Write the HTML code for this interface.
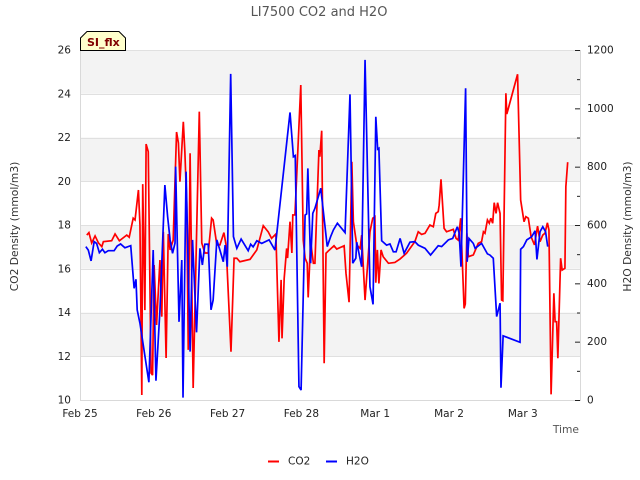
<!DOCTYPE html>
<html>
<head>
<meta charset="utf-8">
<title>LI7500 CO2 and H2O</title>
<style>
html,body{margin:0;padding:0;background:#fff;}
svg{display:block;}
text{font-family:"DejaVu Sans","Liberation Sans",sans-serif;}
</style>
</head>
<body>
<svg id="chart" xmlns="http://www.w3.org/2000/svg" width="640" height="480" viewBox="0 0 640 480">
  <rect x="0" y="0" width="640" height="480" fill="#ffffff"/>
  <g id="bands"></g>
  <g id="grid"></g>
  <g id="series"></g>
  <g id="axes"></g>
  <text x="319" y="16" font-size="13" fill="#555555" text-anchor="middle">LI7500 CO2 and H2O</text>
  <text transform="translate(18,226.5) rotate(-90)" font-size="10.7" fill="#333333" text-anchor="middle">CO2 Density (mmol/m3)</text>
  <text transform="translate(631,226.5) rotate(-90)" font-size="10.7" fill="#333333" text-anchor="middle">H2O Density (mmol/m3)</text>
  <text x="579" y="433" font-size="10.7" fill="#555555" text-anchor="end">Time</text>
  <g>
    <polygon points="80.5,50.5 80.5,38 87,31.5 119,31.5 125.5,38 125.5,50.5" fill="#ffffcc" stroke="#000000" stroke-width="1"/>
    <text x="87" y="46" font-size="11" font-weight="bold" fill="#800000">SI_flx</text>
  </g>
  <g>
    <g>
      <line x1="268" x2="279" y1="461.5" y2="461.5" stroke="#ff0000" stroke-width="2"/>
      <text x="288" y="464.5" font-size="10.5" fill="#222222">CO2</text>
    </g>
    <g>
      <line x1="326" x2="337" y1="461.5" y2="461.5" stroke="#0000ff" stroke-width="2"/>
      <text x="346" y="464.5" font-size="10.5" fill="#222222">H2O</text>
    </g>
  </g>
</svg>
<script>
// Time values are hours since Feb 25 00:00.
const co2Hours = [2.2,2.9,3.8,4.9,6.0,7.1,7.6,10.3,11.4,12.8,15.2,16.0,17.3,17.9,19.0,19.5,20.1,20.4,21.1,21.5,22.2,23.1,23.6,24.1,24.9,26.0,26.6,27.1,28.0,28.7,29.3,30.3,31.4,32.0,32.5,33.6,34.1,34.7,35.2,35.8,36.8,38.8,39.6,40.6,41.7,42.8,43.3,44.5,45.5,46.8,47.5,49.1,50.1,51.0,52.0,55.3,57.5,59.6,61.2,62.3,63.7,64.7,65.4,65.7,66.4,67.2,67.5,68.3,68.9,69.2,69.9,71.8,72.6,73.2,73.9,74.2,75.0,75.9,76.4,77.7,78.0,78.6,79.4,80.0,81.1,82.6,83.5,85.9,86.5,87.5,88.4,88.9,90.0,91.1,91.6,92.7,94.3,95.2,95.9,96.2,96.7,97.2,97.9,98.6,100.3,102.4,104.1,106.2,108.9,110.0,111.1,112.2,113.8,114.9,115.7,116.5,116.8,117.4,118.4,119.2,121.4,122.3,123.0,123.8,124.9,125.3,125.8,126.3,127.9,129.5,130.6,131.2,131.7,132.5,133.1,133.6,134.2,134.7,135.3,135.8,136.6,137.1,137.5,138.5,138.8,142.3,143.3,144.4,145.0,145.8,146.7,147.8,148.8,149.6,150.5,151.2,152.0,152.5,153.2,154.1,154.5,155.0,155.4,156.3,156.8,157.7,158.0,158.6];
const co2Values = [17.54,17.65,17.18,17.50,17.18,17.01,17.24,17.28,17.59,17.28,17.54,17.44,18.31,18.23,19.60,18.0,10.23,19.87,14.11,21.70,21.35,11.23,11.14,16.17,13.43,16.40,13.81,17.69,11.92,17.59,16.86,17.31,22.25,21.75,19.98,22.72,21.35,19.06,12.29,21.28,10.55,23.18,17.18,16.72,16.72,18.31,18.23,17.09,17.09,17.65,17.09,12.21,16.48,16.48,16.32,16.43,16.86,17.97,17.69,17.39,17.59,12.66,15.49,12.82,15.56,16.93,16.49,18.15,16.72,18.46,18.46,24.40,17.31,16.48,16.25,14.69,17.24,16.25,16.25,21.43,21.12,22.31,11.68,16.71,16.86,17.05,16.90,17.05,15.79,14.47,20.89,18.15,17.09,16.93,17.54,14.57,17.69,18.31,18.38,15.36,16.86,15.33,16.86,16.55,16.25,16.29,16.45,16.71,17.24,17.69,17.57,17.62,18.0,17.92,18.53,18.61,18.91,20.09,17.85,17.69,17.80,17.39,17.31,18.31,14.19,14.39,17.62,16.55,16.63,17.16,17.24,17.69,17.62,18.23,18.08,18.31,18.08,19.02,18.53,19.02,18.53,14.57,14.54,24.02,23.07,24.89,19.14,18.15,18.38,18.31,17.46,17.09,17.95,17.24,17.54,17.62,18.10,17.77,10.26,14.88,13.58,13.58,11.91,16.48,15.94,16.02,19.75,20.87];
const h2oHours = [1.9,2.7,3.6,4.6,5.4,6.3,7.3,8.1,9.2,11.1,12.1,13.2,14.6,16.5,17.6,18.2,18.6,19.5,22.4,23.8,24.7,26.0,27.6,28.5,29.3,30.1,30.9,31.1,32.2,33.1,33.5,34.5,35.8,36.6,37.9,39.0,39.8,40.6,41.7,42.6,43.3,44.5,45.5,46.6,47.2,47.9,49.0,49.9,51.0,52.4,54.7,55.5,56.3,57.5,59.1,61.5,63.4,68.3,69.4,70.0,71.2,71.9,73.2,73.7,74.1,75.0,75.7,76.4,78.3,80.4,81.5,82.4,83.7,86.2,87.8,88.7,89.7,90.0,91.6,92.7,94.3,95.3,96.2,96.8,97.2,98.1,99.7,100.8,101.9,102.8,104.1,105.4,107.3,108.9,110.0,112.2,114.0,116.5,117.6,119.8,121.2,122.7,123.3,123.9,125.4,125.9,126.5,127.9,128.5,130.6,132.5,133.3,134.4,135.5,136.6,136.9,137.6,143.1,143.3,144.2,145.3,146.9,148.0,148.6,149.6,150.5,151.4,152.1];
const h2oValues = [526,514,477,543,537,505,517,505,512,512,528,535,522,529,383,414,309,263,61,514,66,309,737,628,549,503,538,800,268,480,8,783,166,549,232,520,463,534,534,309,343,549,514,474,531,457,1118,560,520,552,512,534,525,546,537,549,514,986,834,838,46,34,634,638,794,469,640,657,726,526,560,583,606,574,1048,469,486,541,457,1166,388,328,971,860,863,546,531,535,508,508,554,503,541,543,531,520,497,529,526,549,554,594,573,457,1069,474,554,537,520,537,501,497,486,286,332,42,220,198,517,526,549,560,580,482,577,594,577,526];
const leftTicks = [10,12,14,16,18,20,22,24,26];
const rightMajorTicks = [0,200,400,600,800,1000,1200];
const rightMinorTicks = [100,300,500,700,900,1100];
const dayLabels = ['Feb 25','Feb 26','Feb 27','Feb 28','Mar 1','Mar 2','Mar 3'];

const SVG_NS = 'http://www.w3.org/2000/svg';
const plot = {left: 80, right: 580, top: 50, bottom: 400};
const hourDomainMax = (plot.right - plot.left) / 3.075;
function xScale(h) { return plot.left + (h / hourDomainMax) * (plot.right - plot.left); }
function yLeft(v) { return plot.bottom - (v - 10) / 16 * (plot.bottom - plot.top); }
function yRight(v) { return plot.bottom - v / 1200 * (plot.bottom - plot.top); }
function make(tag, attrs, parent, txt) {
  const el = document.createElementNS(SVG_NS, tag);
  for (const k in attrs) el.setAttribute(k, attrs[k]);
  if (txt !== undefined) el.textContent = txt;
  parent.appendChild(el);
  return el;
}
const bands = document.getElementById('bands');
const grid = document.getElementById('grid');
const axes = document.getElementById('axes');
const series = document.getElementById('series');

for (let i = 0; i + 1 < leftTicks.length; i += 2) {
  const yTop = yLeft(leftTicks[leftTicks.length - 1 - i]);
  const yBottom = yLeft(leftTicks[leftTicks.length - 2 - i]);
  const band = make('rect', {x: plot.left, y: yTop, width: plot.right - plot.left, height: yBottom - yTop, fill: '#f3f3f3'}, bands);
  
  
}
leftTicks.forEach(function (v) {
  const y = Math.round(yLeft(v)) + 0.5;
  const line = make('line', {x1: plot.left, x2: plot.right, y1: y, y2: y, stroke: '#e0e0e0', 'stroke-width': 1}, grid);
  
  
  const label = make('text', {x: 71, y: yLeft(v) + 3.5, 'font-size': 10.5, fill: '#222222', 'text-anchor': 'end'}, axes, String(v));
  
  
});

const borderLeft = make('line', {x1: 80.5, x2: 80.5, y1: plot.top, y2: plot.bottom + 1, stroke: '#d9d9d9', 'stroke-width': 1}, axes);


const borderRight = make('line', {x1: 580.5, x2: 580.5, y1: plot.top, y2: plot.bottom + 1, stroke: '#d9d9d9', 'stroke-width': 1}, axes);


const borderBottom = make('line', {x1: plot.left, x2: 581, y1: 400.5, y2: 400.5, stroke: '#d9d9d9', 'stroke-width': 1}, axes);



rightMajorTicks.forEach(function (v) {
  const y = yRight(v);
  const tick = make('line', {x1: 575, x2: 580, y1: y + 0.5, y2: y + 0.5, stroke: '#222222', 'stroke-width': 1}, axes);
  
  
  const label = make('text', {x: 587, y: y + 3.5, 'font-size': 10.5, fill: '#222222'}, axes, String(v));
  
  
});
rightMinorTicks.forEach(function (v) {
  const y = yRight(v);
  const tick = make('line', {x1: 577, x2: 580, y1: y + 0.5, y2: y + 0.5, stroke: '#222222', 'stroke-width': 1}, axes);
  
  
});
dayLabels.forEach(function (d, i) {
  const label = make('text', {x: xScale(i * 24), y: 417, 'font-size': 10.5, fill: '#222222', 'text-anchor': 'middle'}, axes, d);
  
  
});

function pathFrom(hours, values, yFn) {
  return hours.map(function (h, i) {
    return (i ? 'L' : 'M') + xScale(h).toFixed(2) + ' ' + yFn(values[i]).toFixed(2);
  }).join(' ');
}
const co2Line = make('path', {d: pathFrom(co2Hours, co2Values, yLeft), fill: 'none', stroke: '#ff0000', 'stroke-width': 1.7, 'stroke-linejoin': 'miter', 'stroke-miterlimit': 3}, series);


const h2oLine = make('path', {d: pathFrom(h2oHours, h2oValues, yRight), fill: 'none', stroke: '#0000ff', 'stroke-width': 1.7, 'stroke-linejoin': 'miter', 'stroke-miterlimit': 3}, series);


</script>
</body>
</html>
